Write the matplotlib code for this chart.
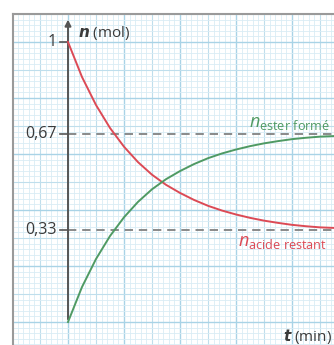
import numpy as np
import matplotlib.pyplot as plt

plt.rcParams['font.family'] = ['Open Sans', 'DejaVu Sans']
plt.rcParams['mathtext.fontset'] = 'custom'
plt.rcParams['mathtext.rm'] = 'Open Sans'
plt.rcParams['mathtext.it'] = 'Open Sans:italic'
plt.rcParams['mathtext.bf'] = 'Open Sans:bold'

# values (t in grid units, n in mol)
t = [0, 0.25, 0.5, 0.75, 1.0, 1.25, 1.5, 1.75, 2.0, 2.25, 2.5, 2.75, 3.0, 3.25, 3.5, 3.75, 4.0, 4.25, 4.5, 4.75]
n_acide = [1.0, 0.875, 0.775, 0.693, 0.626, 0.571, 0.526, 0.490, 0.461, 0.436, 0.415, 0.398, 0.384, 0.372, 0.362, 0.354, 0.347, 0.342, 0.338, 0.336]
n_ester = [0.0, 0.125, 0.225, 0.307, 0.374, 0.429, 0.474, 0.510, 0.539, 0.564, 0.585, 0.602, 0.616, 0.628, 0.638, 0.646, 0.653, 0.658, 0.662, 0.664]
y_ticks = [1.0, 0.67, 0.33]
y_labels = ['1', '0,67', '0,33']

red = '#dc4a55'
green = '#4f9a63'
txt = '#3a3a3a'

fig = plt.figure(figsize=(3.34, 3.45), dpi=100)
ax = fig.add_axes([13/334, 0, 321/334, 331/345])
ax.set_xlim(-55/56, 266/56)
ax.set_ylim(-23/280, 308/280)


def paper_style(i):
    if i % 10 == 0:
        return '#a9d3e6', 1.0
    if i % 5 == 0:
        return '#bfdeec', 0.8
    return '#d9ecf5', 0.6


# graph paper
for i in range(-10, 49):
    c, lw = paper_style(i)
    ax.axvline(i / 10, color=c, lw=lw, zorder=0)
for i in range(-5, 56):
    c, lw = paper_style(i)
    ax.axhline(i * 0.02, color=c, lw=lw, zorder=0)

for s in ['right', 'bottom']:
    ax.spines[s].set_visible(False)
for s in ['left', 'top']:
    ax.spines[s].set_color('#9a9a9a')
    ax.spines[s].set_linewidth(1.5)
ax.set_xticks([])
ax.set_yticks([])

# axes with arrows
ax.annotate('', xy=(0, 1.09), xytext=(0, 0),
            arrowprops=dict(arrowstyle='-|>', color='#555555', lw=1.4, mutation_scale=9))
ax.annotate('', xy=(4.78, 0), xytext=(0, 0),
            arrowprops=dict(arrowstyle='-|>', color='#555555', lw=1.4, mutation_scale=9))

# reference levels
for yv, lab in zip(y_ticks, y_labels):
    ax.plot([-0.14, 0], [yv, yv], color='#555555', lw=1.2, zorder=3)
    ax.text(-0.2, yv, lab, ha='right', va='center', fontsize=11.5, color=txt)
for yv in y_ticks[1:]:
    ax.plot([0, 4.8], [yv, yv], color='#777777', lw=1.2, ls=(0, (5, 3.5)), zorder=2)

ax.plot(t, n_acide, color=red, lw=1.4, zorder=4)
ax.plot(t, n_ester, color=green, lw=1.4, zorder=4)

ax.text(0.17, 1.032, r'$\boldsymbol{n}$ (mol)', ha='left', va='center', fontsize=11, color=txt)
ax.text(3.23, 0.695, r'$n_{\mathrm{ester\ formé}}$', ha='left', va='baseline', fontsize=13, color=green)
ax.text(3.03, 0.27, r'$n_{\mathrm{acide\ restant}}$', ha='left', va='baseline', fontsize=13, color=red)
ax.text(3.84, -0.052, r'$\boldsymbol{t}$ (min)', ha='left', va='center', fontsize=11, color=txt)

fig.savefig('out.png', dpi=100)
